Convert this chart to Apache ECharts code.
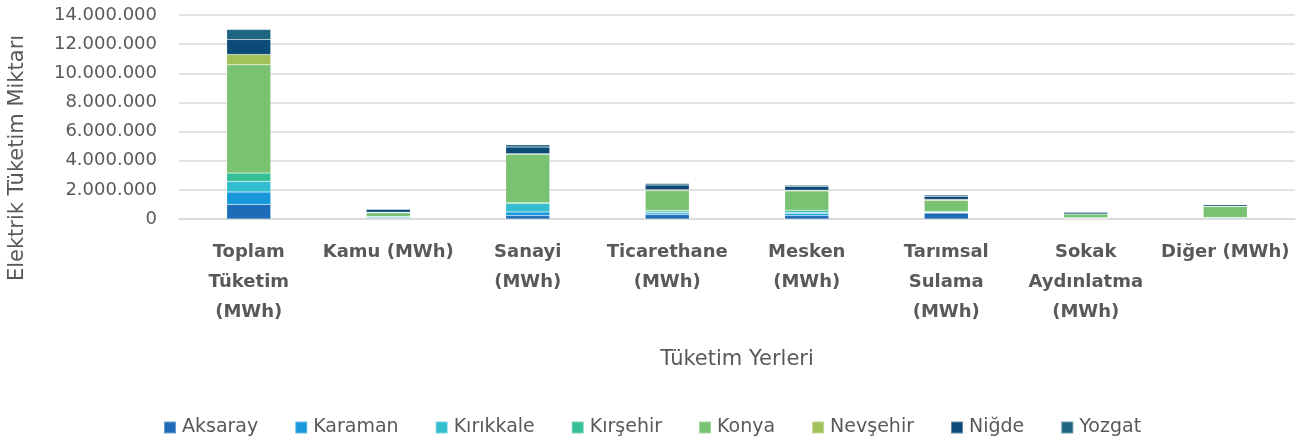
<!DOCTYPE html>
<html>
<head>
<meta charset="utf-8">
<script src="https://cdn.jsdelivr.net/npm/echarts@6/dist/echarts.min.js"></script>
<style>
  html, body { margin: 0; padding: 0; background: #fff; }
  #chart { width: 1316px; height: 444px; }
</style>
</head>
<body>
<div id="chart"></div>
<script>
// categories (x axis)
var categories = [
    'Toplam\nTüketim\n(MWh)', 'Kamu (MWh)', 'Sanayi\n(MWh)', 'Ticarethane\n(MWh)',
    'Mesken\n(MWh)', 'Tarımsal\nSulama\n(MWh)', 'Sokak\nAydınlatma\n(MWh)', 'Diğer (MWh)'
];
var yTicks = [0, 2000000, 4000000, 6000000, 8000000, 10000000, 12000000, 14000000];

// series values (MWh)
var aksaray   = [1000000, 40000, 230000, 300000, 230000, 410000, 20000, 20000];
var karaman   = [850000, 50000, 250000, 110000, 140000, 30000, 20000, 20000];
var kirikkale = [730000, 60000, 570000, 70000, 90000, 30000, 20000, 50000];
var kirsehir  = [570000, 30000, 70000, 110000, 140000, 70000, 30000, 20000];
var konya     = [7430000, 250000, 3320000, 1350000, 1330000, 730000, 250000, 750000];
var nevsehir  = [710000, 30000, 40000, 70000, 50000, 70000, 10000, 20000];
var nigde     = [1030000, 200000, 460000, 330000, 260000, 220000, 110000, 100000];
var yozgat    = [690000, 50000, 160000, 100000, 80000, 80000, 30000, 40000];

var seriesNames = ['Aksaray', 'Karaman', 'Kırıkkale', 'Kırşehir', 'Konya', 'Nevşehir', 'Niğde', 'Yozgat'];
var seriesData = [aksaray, karaman, kirikkale, kirsehir, konya, nevsehir, nigde, yozgat];
var colors = ['#1e6cb8', '#1898dc', '#33bdd0', '#35bf97', '#79c271', '#a0c258', '#0c4a78', '#1c6480'];

var fontFam = '"DejaVu Sans", sans-serif';
var grayText = '#595959';

function fmt(v) {
    return String(v).replace(/\B(?=(\d{3})+(?!\d))/g, '.');
}

var series = seriesNames.map(function (name, i) {
    return {
        name: name,
        type: 'bar',
        stack: 'total',
        barWidth: 44,
        data: seriesData[i],
        itemStyle: {
            color: colors[i],
            borderColor: 'rgba(255,255,255,0.35)',
            borderWidth: 0.5
        }
    };
});

var chart = echarts.init(document.getElementById('chart'));
chart.setOption({
    animation: false,
    color: colors,
    textStyle: { fontFamily: fontFam },
    grid: {
        left: 179,
        right: 21,
        top: 15,
        bottom: 225
    },
    legend: {
        data: seriesNames,
        bottom: 2,
        left: 158,
        itemWidth: 12,
        itemHeight: 12,
        itemGap: 36,
        icon: 'rect',
        textStyle: { color: grayText, fontSize: 19, fontFamily: fontFam, padding: [0, 0, 0, 1] }
    },
    xAxis: {
        type: 'category',
        data: categories,
        name: 'Tüketim Yerleri',
        nameLocation: 'middle',
        nameGap: 130,
        nameTextStyle: { color: grayText, fontSize: 21 },
        axisLine: { show: true, lineStyle: { color: '#d9d9d9', width: 1.5 } },
        axisTick: { show: false },
        axisLabel: {
            color: grayText,
            fontSize: 18,
            fontWeight: 'bold',
            lineHeight: 30,
            margin: 18,
            interval: 0
        }
    },
    yAxis: {
        type: 'value',
        min: 0,
        max: 14000000,
        interval: 2000000,
        axisLine: { show: false },
        axisTick: { show: false },
        splitLine: { lineStyle: { color: '#d9d9d9', width: 1.5 } },
        axisLabel: {
            color: grayText,
            fontSize: 18,
            margin: 22,
            formatter: function (v) { return yTicks.indexOf(v) >= 0 ? fmt(v) : ''; }
        }
    },
    graphic: [{
        type: 'text',
        x: 18,
        y: 158,
        rotation: Math.PI / 2,
        style: {
            text: 'Elektrik Tüketim Miktarı',
            fill: grayText,
            font: '21px ' + fontFam,
            align: 'center',
            verticalAlign: 'middle'
        }
    }],
    series: series
});
</script>
</body>
</html>
